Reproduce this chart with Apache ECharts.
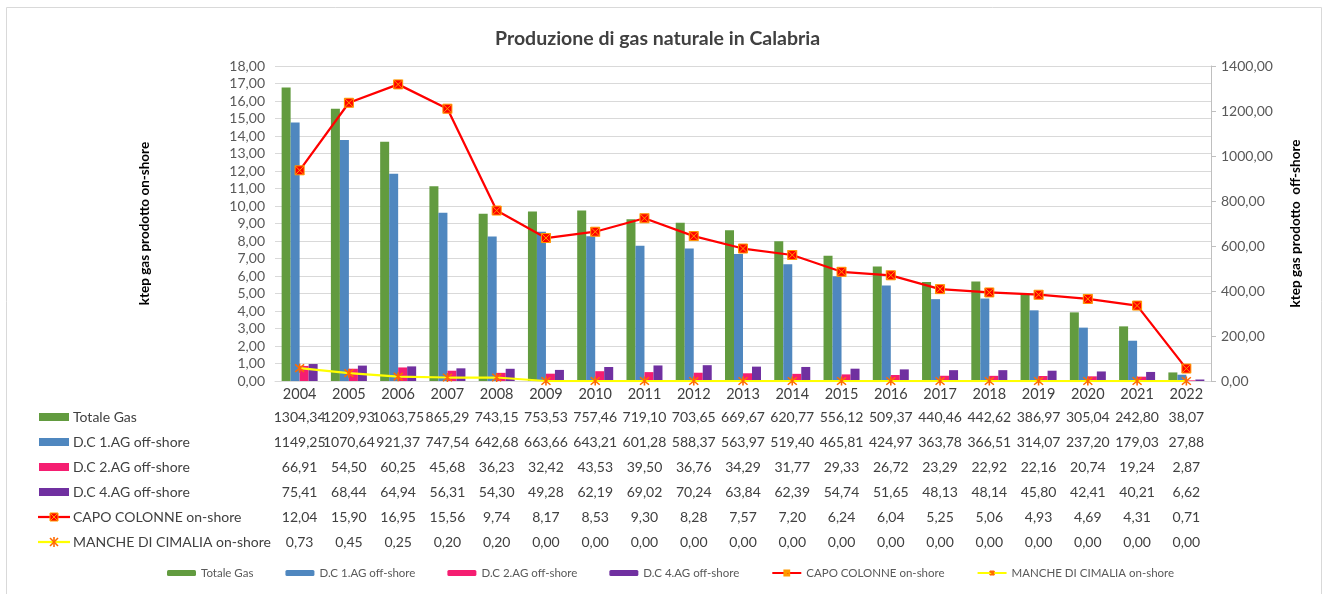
<!DOCTYPE html>
<html>
<head>
<meta charset="utf-8">
<script src="https://cdn.jsdelivr.net/npm/echarts@6/dist/echarts.min.js"></script>
<style>
html,body{margin:0;padding:0;background:#fff;}
#chart{width:1325px;height:594px;}
</style>
</head>
<body>
<div id="chart"></div>
<script>
const years = ['2004','2005','2006','2007','2008','2009','2010','2011','2012','2013','2014','2015','2016','2017','2018','2019','2020','2021','2022'];
const totaleGas = [1304.34,1209.93,1063.75,865.29,743.15,753.53,757.46,719.10,703.65,669.67,620.77,556.12,509.37,440.46,442.62,386.97,305.04,242.80,38.07];
const dc1 = [1149.25,1070.64,921.37,747.54,642.68,663.66,643.21,601.28,588.37,563.97,519.40,465.81,424.97,363.78,366.51,314.07,237.20,179.03,27.88];
const dc2 = [66.91,54.50,60.25,45.68,36.23,32.42,43.53,39.50,36.76,34.29,31.77,29.33,26.72,23.29,22.92,22.16,20.74,19.24,2.87];
const dc4 = [75.41,68.44,64.94,56.31,54.30,49.28,62.19,69.02,70.24,63.84,62.39,54.74,51.65,48.13,48.14,45.80,42.41,40.21,6.62];
const capoColonne = [12.04,15.90,16.95,15.56,9.74,8.17,8.53,9.30,8.28,7.57,7.20,6.24,6.04,5.25,5.06,4.93,4.69,4.31,0.71];
const mancheCimalia = [0.73,0.45,0.25,0.20,0.20,0,0,0,0,0,0,0,0,0,0,0,0,0,0];
const seriesNames = ['Totale Gas','D.C 1.AG off-shore','D.C 2.AG off-shore','D.C 4.AG off-shore','CAPO COLONNE on-shore','MANCHE DI CIMALIA on-shore'];

const FONT = 'Lato';
const TXT = '#404040';
const colors = ['#629B3F','#4F87BF','#F51E71','#7030A0','#FF0000','#FFFF00'];
const capoSymbol = 'path://M0 0H10V10H0Z M0 0L10 10 M10 0L0 10';
const mancheSymbol = 'path://M0 0L10 10 M10 0L0 10 M5 -1L5 11';
const fmt = v => v.toFixed(2).replace('.', ',');

const chart = echarts.init(document.getElementById('chart'), null, {renderer:'canvas'});

const barSeries = (name, data, color) => ({
  name, type:'bar', yAxisIndex:1, data, barWidth:9, barGap:'0%',
  itemStyle:{color}, emphasis:{disabled:true}, z:2
});

const option = {
  animation:false,
  textStyle:{fontFamily:FONT},
  title:{
    text:'Produzione di gas naturale in Calabria',
    left:490, top:24,
    textStyle:{fontFamily:FONT, fontSize:19.5, fontWeight:'bold', color:TXT}
  },
  legend:{
    bottom:10, left:162, itemWidth:29, itemHeight:6, itemGap:32,
    textStyle:{fontFamily:FONT, fontSize:11.5, color:'#595959'},
    data:seriesNames
  },
  grid:{left:275, right:114, top:66, bottom:213, containLabel:false},
  xAxis:{
    type:'category', data:years,
    axisLine:{show:true, lineStyle:{color:'#D9D9D9', width:1}},
    axisTick:{show:false},
    axisLabel:{fontFamily:FONT, fontSize:14.5, color:TXT, margin:6, interval:0}
  },
  yAxis:[
    {
      type:'value', min:0, max:18, interval:1,
      name:'ktep gas prodotto on-shore', nameLocation:'middle', nameGap:123, nameRotate:90,
      nameTextStyle:{fontFamily:FONT, fontSize:13.5, fontWeight:'bold', color:'#000'},
      axisLine:{show:false}, axisTick:{show:false},
      axisLabel:{fontFamily:FONT, fontSize:14, color:'#595959', margin:10, formatter:v=>fmt(v)},
      splitLine:{show:true, lineStyle:{color:'#D9D9D9', width:1}}
    },
    {
      type:'value', min:0, max:1400, interval:200, position:'right',
      name:'ktep gas prodotto  off-shore', nameLocation:'middle', nameGap:78, nameRotate:90,
      nameTextStyle:{fontFamily:FONT, fontSize:13.5, fontWeight:'bold', color:'#000'},
      axisLine:{show:true, lineStyle:{color:'#BFBFBF', width:1}},
      axisTick:{show:true, length:5, inside:false, lineStyle:{color:'#BFBFBF'}},
      axisLabel:{fontFamily:FONT, fontSize:14, color:'#595959', margin:10, formatter:v=>fmt(v)},
      splitLine:{show:false}
    }
  ],
  series:[
    barSeries(seriesNames[0], totaleGas, colors[0]),
    barSeries(seriesNames[1], dc1, colors[1]),
    barSeries(seriesNames[2], dc2, colors[2]),
    barSeries(seriesNames[3], dc4, colors[3]),
    {
      name:seriesNames[4], type:'line', yAxisIndex:0, data:capoColonne,
      symbol:capoSymbol, symbolSize:9, showAllSymbol:true,
      lineStyle:{color:colors[4], width:2.25},
      itemStyle:{color:'#FF0000', borderColor:'#FF9900', borderWidth:1},
      emphasis:{disabled:true}, z:5
    },
    {
      name:seriesNames[5], type:'line', yAxisIndex:0, data:mancheCimalia,
      symbol:mancheSymbol, symbolSize:9, showAllSymbol:true,
      lineStyle:{color:colors[5], width:2.25},
      itemStyle:{color:'#FFD000', borderColor:'#FF6A00', borderWidth:1.6},
      emphasis:{disabled:true}, z:6
    }
  ]
};
chart.setOption(option);

// Data table below the chart
const tableRows = [totaleGas, dc1, dc2, dc4, capoColonne, mancheCimalia];
const rowY0 = 417, rowStep = 25;
const graphics = [];
graphics.push({type:'rect', shape:{x:6.5, y:7.5, width:1315, height:600}, style:{fill:null, stroke:'#D9D9D9', lineWidth:1}, silent:true, z:-1});
tableRows.forEach((row, r) => {
  const y = rowY0 + r * rowStep;
  if (r < 4) {
    graphics.push({type:'rect', shape:{x:39, y:y-4, width:30, height:8}, style:{fill:colors[r]}, silent:true});
  } else {
    graphics.push({type:'line', shape:{x1:38, y1:y, x2:70, y2:y}, style:{stroke:colors[r], lineWidth:2.25}, silent:true});
    if (r === 4) {
      graphics.push({type:'rect', shape:{x:50, y:y-4, width:8, height:8}, style:{fill:'#FF0000', stroke:'#FF9900', lineWidth:1}, silent:true});
      graphics.push({type:'polyline', shape:{points:[[50,y-4],[58,y+4]]}, style:{stroke:'#FF9900', lineWidth:1}, silent:true});
      graphics.push({type:'polyline', shape:{points:[[58,y-4],[50,y+4]]}, style:{stroke:'#FF9900', lineWidth:1}, silent:true});
    } else {
      [[[50,y-4],[58,y+4]],[[58,y-4],[50,y+4]],[[54,y-5],[54,y+5]]].forEach(p=>{
        graphics.push({type:'polyline', shape:{points:p}, style:{stroke:'#FF6A00', lineWidth:1.6}, silent:true});
      });
    }
  }
  graphics.push({type:'text', x:73, y:y, style:{text:seriesNames[r], font:'14px '+FONT, fill:TXT, textVerticalAlign:'middle', textAlign:'left'}, silent:true});
  row.forEach((v, i) => {
    const x = chart.convertToPixel({xAxisIndex:0}, years[i]);
    graphics.push({type:'text', x:x, y:y, style:{text:fmt(v), font:'14px '+FONT, fill:TXT, textVerticalAlign:'middle', textAlign:'center'}, silent:true});
  });
});
chart.setOption({graphic:graphics});
</script>
</body>
</html>
